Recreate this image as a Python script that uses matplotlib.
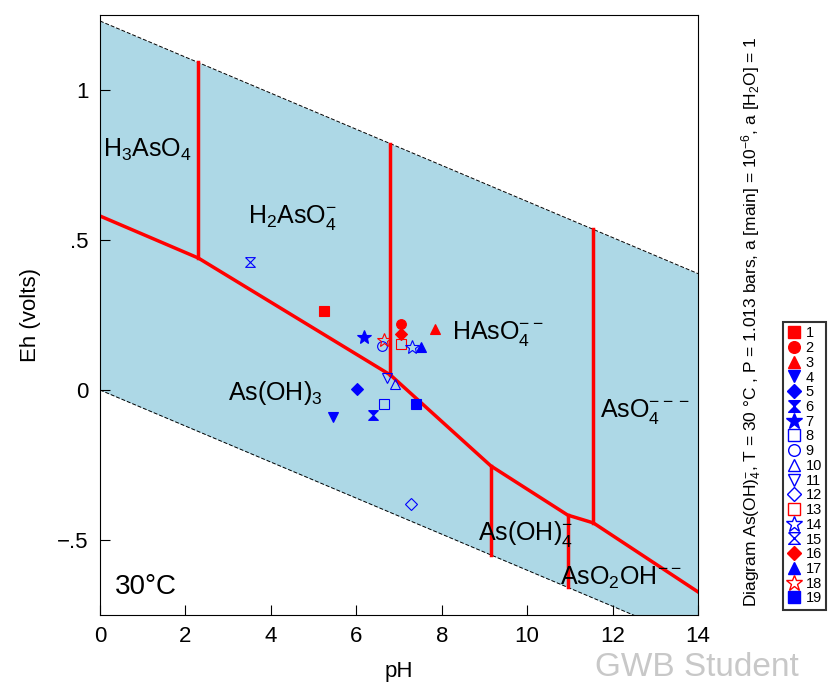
import numpy as np
import matplotlib
matplotlib.use('Agg')
from matplotlib import pyplot as plt
from matplotlib.lines import Line2D

plt.rcParams['font.family'] = ['Liberation Sans', 'DejaVu Sans']
plt.rcParams['mathtext.fontset'] = 'custom'
plt.rcParams['mathtext.rm'] = 'Liberation Sans'
plt.rcParams['mathtext.it'] = 'Liberation Sans'

# water stability limits at 30 C
ph_water = [0, 14]
eh_upper = [1.23, 0.388]
eh_lower = [0.0, -0.841]

# As(III)/As(V) boundary (sloped red line)
bnd_ph = [0, 2.3, 6.8, 9.15, 10.95, 11.55, 14]
bnd_eh = [0.58, 0.44, 0.05, -0.253, -0.417, -0.443, -0.673]

# vertical boundaries: pH, bottom Eh, top Eh
vert_ph = [2.3, 6.8, 11.55, 9.15, 10.95]
vert_lo = [0.44, 0.05, -0.443, -0.55, -0.658]
vert_hi = [1.092, 0.821, 0.536, -0.253, -0.417]

# sample points
samp_ph = [5.25, 7.05, 7.85, 5.46, 6.01, 6.38, 6.17, 6.64, 6.60, 6.91,
           6.71, 7.28, 7.05, 7.30, 3.51, 7.05, 7.52, 6.66, 7.39]
samp_eh = [0.263, 0.22, 0.203, -0.089, 0.003, -0.083, 0.176, -0.047, 0.147, 0.02,
           0.039, -0.38, 0.152, 0.144, 0.426, 0.186, 0.144, 0.167, -0.047]
hourglass = [(-1, 1), (1, 1), (-1, -1), (1, -1), (-1, 1)]
samp_marker = ['s', 'o', '^', 'v', 'D', hourglass, '*', 's', 'o', '^',
               'v', 'D', 's', '*', hourglass, 'D', '^', '*', 's']
samp_color = ['red', 'red', 'red', 'blue', 'blue', 'blue', 'blue', 'blue', 'blue', 'blue',
              'blue', 'blue', 'red', 'blue', 'blue', 'red', 'blue', 'red', 'blue']
samp_filled = [True, True, True, True, True, True, True, False, False, False,
               False, False, False, False, False, True, True, False, True]

# field labels
field_text = ['H$_3$AsO$_4$', 'H$_2$AsO$_4^{-}$', 'HAsO$_4^{--}$', 'AsO$_4^{---}$',
              'As(OH)$_3$', 'As(OH)$_4^{-}$', 'AsO$_2$OH$^{--}$']
field_ph = [1.12, 4.5, 9.3, 12.76, 4.1, 9.95, 12.2]
field_eh = [0.80, 0.575, 0.19, -0.07, -0.01, -0.48, -0.625]

fig = plt.figure(figsize=(8.31, 6.84), dpi=100)
ax = fig.add_axes([100 / 831, 1 - 615 / 684, 598 / 831, 600 / 684])

ax.fill_between(ph_water, eh_lower, eh_upper, color='#add8e6', lw=0, zorder=0)
ax.plot(ph_water, eh_upper, 'k--', lw=0.7, dashes=(4, 2))
ax.plot(ph_water, eh_lower, 'k--', lw=0.7, dashes=(4, 2))

ax.plot(bnd_ph, bnd_eh, color='red', lw=2.5, zorder=2)
for p, lo, hi in zip(vert_ph, vert_lo, vert_hi):
    ax.plot([p, p], [lo, hi], color='red', lw=2.5, zorder=2)

handles = []
for i in range(len(samp_ph)):
    m = samp_marker[i]
    ms = 7
    if m == '*':
        ms = 10
    elif m == 'D':
        ms = 6
    fc = samp_color[i] if samp_filled[i] else 'none'
    ax.plot(samp_ph[i], samp_eh[i], marker=m, ms=ms, mfc=fc, mec=samp_color[i],
            mew=0.8, ls='none', zorder=3)
    handles.append(Line2D([], [], marker=m, ms=ms * 1.2, mfc=fc, mec=samp_color[i],
                          mew=1.0, ls='none', label=str(i + 1)))

for t, p, e in zip(field_text, field_ph, field_eh):
    ax.text(p, e, t, fontsize=18, ha='center', va='center', zorder=4)

ax.text(0.025, 0.025, '30°C', transform=ax.transAxes, fontsize=20, ha='left', va='bottom')

ax.set_xlim(0, 14)
ax.set_ylim(-0.75, 1.25)
ax.set_xticks([0, 2, 4, 6, 8, 10, 12, 14])
ax.set_yticks([-0.5, 0, 0.5, 1])
ax.set_yticklabels(['\u2212.5', '0', '.5', '1'])
ax.tick_params(direction='in', length=7, labelsize=16, pad=8)
ax.set_xlabel('pH', fontsize=16, labelpad=10)
ax.set_ylabel('Eh (volts)', fontsize=16, labelpad=12)

fig.text(752 / 831, 1 - 322 / 684, 'Diagram As(OH)$_4^{-}$, T = 30 °C , P = 1.013 bars, a [main] = 10$^{-6}$, a [H$_2$O] = 1',
         rotation=90, ha='center', va='center', fontsize=12.5)

leg = fig.legend(handles=handles, loc='upper left', bbox_to_anchor=(783 / 831, 1 - 322 / 684),
                 fontsize=10.5, handlelength=0.9, handletextpad=0.35, labelspacing=0.05,
                 borderpad=0.3, frameon=True, fancybox=False, edgecolor='black',
                 borderaxespad=0)
leg.get_frame().set_linewidth(1.5)

fig.text(697 / 831, 1 - 668 / 684, 'GWB Student', fontsize=24, color='#c8c8c8',
         ha='center', va='center')

fig.savefig('out.png', dpi=100)
